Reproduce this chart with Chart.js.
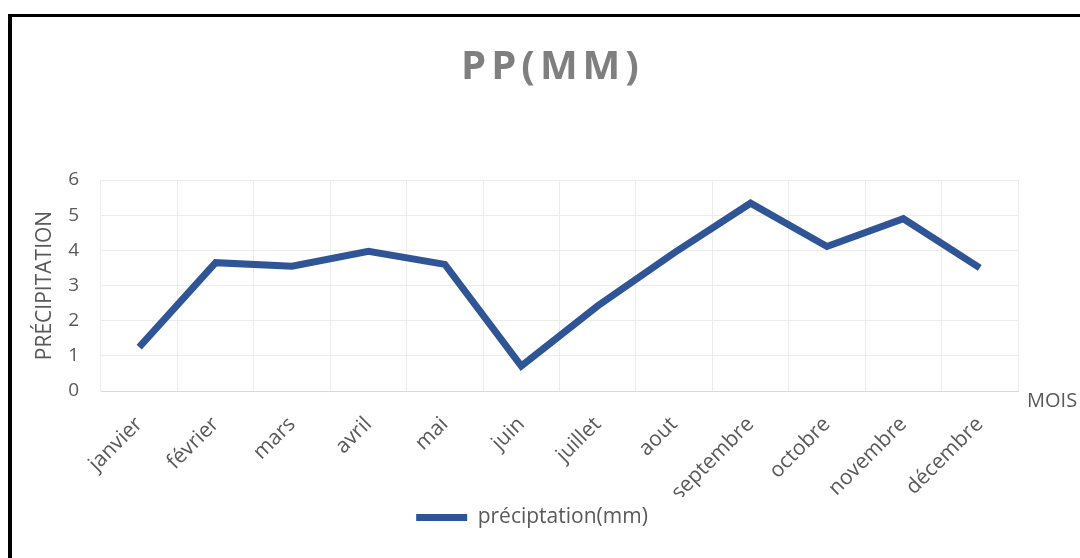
<!DOCTYPE html>
<html lang="fr">
<head>
<meta charset="utf-8">
<title>PP(MM)</title>
<script src="https://cdn.jsdelivr.net/npm/chart.js@4.4.1/dist/chart.umd.min.js"></script>
<style>
    html, body { margin: 0; padding: 0; background: #fff; overflow: hidden; }
    #wrap { position: relative; width: 1080px; height: 558px; }
    #frame {
        position: absolute; left: 8px; top: 14px; width: 1200px; height: 800px;
        border-left: 4px solid #000; border-top: 3px solid #000;
        pointer-events: none;
    }
</style>
</head>
<body>
<div id="wrap">
    <canvas id="ppChart"></canvas>
    <div id="frame"></div>
</div>
<script>
// Data
const months = ['janvier', 'février', 'mars', 'avril', 'mai', 'juin',
    'juillet', 'aout', 'septembre', 'octobre', 'novembre', 'décembre'];
const precipitation = [1.25, 3.65, 3.55, 3.97, 3.6, 0.71, 2.42, 3.93, 5.34, 4.11, 4.9, 3.5];
const seriesName = 'préciptation(mm)';
const chartTitle = 'PP(MM)';
const yTitle = 'PRÉCIPITATION';
const xTitle = 'MOIS';

const colors = {
    line: '#2F5597',
    text: '#595959',
    title: '#7F7F7F',
    grid: '#ECECEC',
    axis: '#D9D9D9'
};
const fontFamily = '"Open Sans", sans-serif';
const labelSize = 21;

// Title with letter spacing + the "MOIS" label at the end of the x axis
const extraText = {
    id: 'extraText',
    afterLayout(chart) {
        // legend sits a bit right of the centre in the original
        chart.legend.left += 23;
        chart.legend.right += 23;
    },
    afterDraw(chart) {
        const ctx = chart.ctx;
        const area = chart.chartArea;
        ctx.save();
        ctx.fillStyle = colors.title;
        ctx.font = 'bold 40px ' + fontFamily;
        ctx.letterSpacing = '5px';
        ctx.textBaseline = 'alphabetic';
        ctx.textAlign = 'left';
        const w = ctx.measureText(chartTitle).width - 5;
        ctx.fillText(chartTitle, 550 - w / 2, 79);
        ctx.restore();

        ctx.save();
        ctx.fillStyle = colors.text;
        ctx.font = '20px ' + fontFamily;
        ctx.textBaseline = 'middle';
        ctx.textAlign = 'left';
        ctx.fillText(xTitle, area.right + 9, area.bottom + 10);
        ctx.restore();
    }
};

new Chart(document.getElementById('ppChart'), {
    type: 'line',
    data: {
        labels: months,
        datasets: [{
            label: seriesName,
            data: precipitation,
            borderColor: colors.line,
            backgroundColor: colors.line,
            borderWidth: 7,
            pointRadius: 0,
            tension: 0
        }]
    },
    options: {
        responsive: true,
        maintainAspectRatio: false,
        devicePixelRatio: 1,
        animation: false,
        layout: { padding: { top: 180, left: 0, right: 62, bottom: 20 } },
        plugins: {
            title: { display: false },
            tooltip: { enabled: false },
            legend: {
                position: 'bottom',
                labels: {
                    boxWidth: 51,
                    boxHeight: 7,
                    padding: 10,
                    color: colors.text,
                    font: { family: fontFamily, size: labelSize },
                    generateLabels(chart) {
                        return Chart.defaults.plugins.legend.labels.generateLabels(chart).map(l => {
                            l.lineWidth = 0;
                            l.fillStyle = colors.line;
                            return l;
                        });
                    }
                }
            }
        },
        scales: {
            x: {
                offset: true,
                grid: { offset: true, color: colors.grid, drawTicks: false },
                border: { color: colors.axis },
                ticks: {
                    autoSkip: false,
                    maxRotation: 45,
                    minRotation: 45,
                    padding: 21,
                    color: colors.text,
                    font: { family: fontFamily, size: 21 }
                },
                afterFit(scale) { scale.height = 106; }
            },
            y: {
                min: 0,
                max: 6,
                grid: { color: colors.grid, drawTicks: false },
                border: { display: false },
                ticks: {
                    stepSize: 1,
                    padding: 22,
                    color: colors.text,
                    font: { family: fontFamily, size: 19 }
                },
                title: {
                    display: true,
                    text: yTitle,
                    color: colors.text,
                    font: { family: fontFamily, size: labelSize },
                    padding: { top: 32, bottom: 0 }
                },
                afterFit(scale) { scale.width = 101; }
            }
        }
    },
    plugins: [extraText]
});
</script>
</body>
</html>
